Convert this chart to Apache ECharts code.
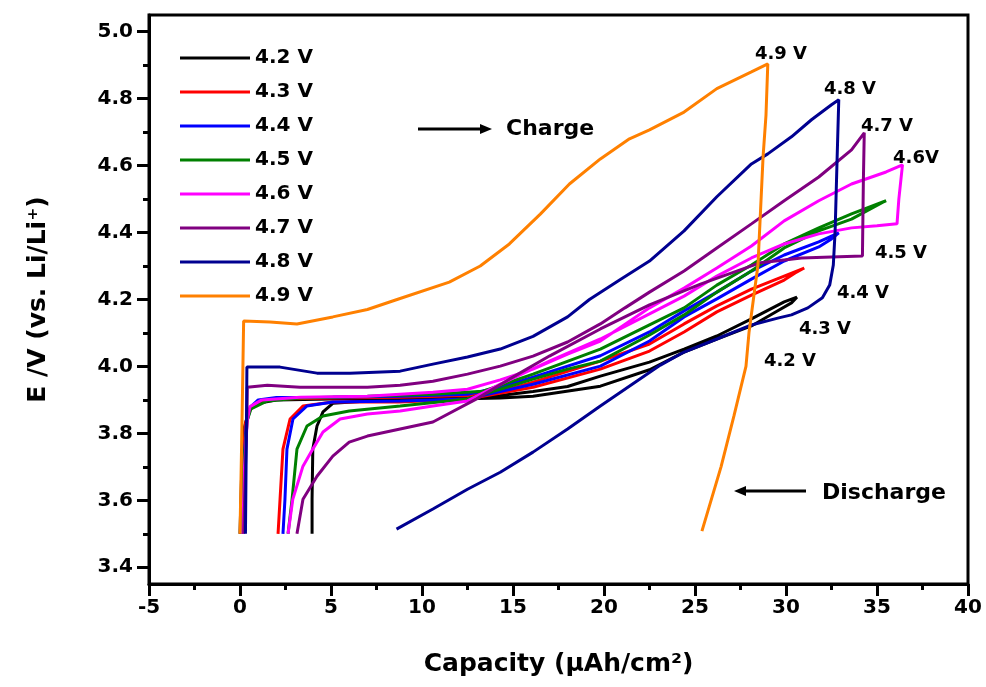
<!DOCTYPE html>
<html>
<head>
<meta charset="utf-8">
<script src="https://cdn.jsdelivr.net/npm/echarts@6/dist/echarts.min.js"></script>
<style>
html,body{margin:0;padding:0;background:#fff;}
#chart{width:986px;height:687px;}
</style>
</head>
<body>
<div id="chart"></div>
<script>
// ---- data ----
const seriesNames = ['4.2 V','4.3 V','4.4 V','4.5 V','4.6 V','4.7 V','4.8 V','4.9 V'];
const seriesColors = ['#000000','#ff0000','#0000ff','#008000','#ff00ff','#800080','#000090','#ff8000'];

const xTickLabels = [-5,0,5,10,15,20,25,30,35,40];
const yTickLabels = [3.4,3.6,3.8,4.0,4.2,4.4,4.6,4.8,5.0];
const yMinorTicks = [3.5,3.7,3.9,4.1,4.3,4.5,4.7,4.9];

const cap42 = [0.0,0.1,0.25,0.5,1.0,2.0,5.0,8.8,12.5,14.3,16.1,18.0,19.8,22.5,24.4,26.2,28.1,29.9,30.6,
               30.3,29.5,28.1,26.2,24.4,22.5,19.8,16.1,14.3,10.6,7.0,5.1,4.56,4.23,4.0,3.96,3.96];
const volt42 = [3.5,3.7,3.82,3.87,3.89,3.9,3.903,3.905,3.908,3.913,3.925,3.94,3.971,4.013,4.052,4.091,4.142,4.193,4.207,
                4.19,4.165,4.121,4.082,4.043,3.99,3.941,3.911,3.906,3.901,3.897,3.89,3.864,3.822,3.753,3.603,3.5];

const cap43 = [0.05,0.15,0.3,0.55,1.0,2.0,5.0,8.8,12.5,14.3,16.1,19.8,22.5,24.4,26.2,28.1,29.9,31.0,
               30.5,29.9,28.1,26.2,24.4,22.5,19.8,16.1,12.5,8.8,5.1,3.46,2.75,2.36,2.2,2.09];
const volt43 = [3.5,3.7,3.83,3.875,3.895,3.903,3.906,3.908,3.913,3.925,3.953,4.016,4.067,4.127,4.181,4.231,4.27,4.294,
                4.279,4.258,4.213,4.163,4.103,4.046,3.992,3.938,3.903,3.894,3.894,3.882,3.843,3.753,3.603,3.5];

const cap44 = [0.1,0.2,0.35,0.6,1.0,2.0,5.1,8.8,12.5,14.3,16.1,19.8,22.5,24.4,26.2,28.1,29.9,31.8,32.9,
               32.5,31.8,29.9,28.1,26.2,24.4,22.5,19.8,16.1,12.5,8.8,5.1,3.68,2.91,2.58,2.47,2.36];
const volt44 = [3.5,3.7,3.83,3.88,3.9,3.907,3.908,3.911,3.917,3.938,3.968,4.032,4.103,4.166,4.222,4.285,4.333,4.372,4.399,
                4.381,4.357,4.315,4.261,4.202,4.148,4.076,4.001,3.947,3.903,3.897,3.894,3.882,3.843,3.753,3.603,3.5];

const cap45 = [0.1,0.2,0.4,0.6,1.5,3.3,7.0,10.6,13.35,16.1,19.8,22.5,24.4,26.2,28.1,29.9,31.8,33.6,35.5,
               35.3,33.6,31.8,29.9,28.1,26.2,24.4,22.5,19.8,18.0,16.1,14.3,12.5,8.8,6.0,4.56,3.68,3.13,2.86,2.64];
const volt45 = [3.5,3.7,3.84,3.873,3.897,3.906,3.911,3.917,3.926,3.977,4.052,4.124,4.175,4.243,4.303,4.366,4.414,4.456,4.495,
                4.49,4.44,4.405,4.354,4.285,4.222,4.154,4.094,4.016,3.992,3.962,3.932,3.903,3.882,3.867,3.852,3.822,3.753,3.603,3.5];

const cap46 = [0.15,0.25,0.4,0.55,1.2,3.3,7.0,10.6,12.5,14.3,16.1,18.0,19.8,22.5,24.4,26.2,28.1,29.9,31.8,33.6,35.5,36.4,
               36.2,36.1,35.0,33.6,31.8,29.9,28.1,26.2,24.4,22.5,19.8,17.0,14.3,12.5,10.6,8.8,7.0,5.5,4.56,4.0,3.46,2.9,2.64];
const volt46 = [3.5,3.7,3.84,3.88,3.9,3.908,3.911,3.923,3.932,3.96,3.992,4.037,4.076,4.175,4.234,4.294,4.36,4.435,4.495,4.545,4.581,4.602,
                4.5,4.426,4.42,4.414,4.396,4.366,4.324,4.27,4.21,4.157,4.082,4.016,3.947,3.897,3.882,3.867,3.858,3.843,3.804,3.753,3.702,3.603,3.5];

const cap47 = [0.2,0.3,0.38,0.4,1.5,3.3,7.0,8.8,10.6,12.5,14.3,16.1,18.0,19.8,21.15,22.5,24.4,26.2,28.1,29.9,31.8,33.6,34.3,
               34.25,34.2,32.5,30.85,28.6,25.3,22.5,19.8,17.0,14.8,13.0,10.6,8.8,7.0,6.0,5.1,4.23,3.46,3.13];
const volt47 = [3.5,3.7,3.85,3.938,3.944,3.938,3.938,3.944,3.956,3.977,4.001,4.031,4.073,4.127,4.175,4.222,4.285,4.354,4.426,4.495,4.566,4.647,4.698,
                4.55,4.33,4.327,4.324,4.31,4.246,4.184,4.112,4.031,3.962,3.903,3.834,3.813,3.792,3.774,3.732,3.672,3.603,3.5];

const cap48 = [0.3,0.35,0.38,2.2,4.23,6.04,8.8,10.6,12.5,14.3,16.1,18.0,19.2,20.9,22.5,24.4,26.2,28.1,29.0,30.3,31.4,32.5,32.9,
               32.8,32.7,32.6,32.4,32.0,31.2,30.3,29.6,28.1,26.2,24.4,23.1,19.8,18.0,16.1,14.3,12.5,10.6,8.6];
const volt48 = [3.5,3.8,3.998,3.998,3.98,3.98,3.986,4.007,4.028,4.052,4.09,4.148,4.2,4.26,4.315,4.405,4.507,4.605,4.635,4.686,4.737,4.782,4.797,
                4.605,4.405,4.303,4.243,4.205,4.175,4.154,4.145,4.124,4.082,4.043,4.004,3.882,3.813,3.744,3.684,3.633,3.574,3.514];

const cap49 = [0.0,0.1,0.16,0.2,1.65,3.13,5.1,7.0,8.63,11.5,13.2,14.8,16.5,18.1,19.8,21.4,22.5,24.4,26.2,28.1,29.0,
               28.9,28.74,28.46,27.97,27.8,27.14,26.43,25.38];
const volt49 = [3.5,3.8,4.0,4.136,4.133,4.127,4.148,4.17,4.2,4.252,4.3,4.366,4.455,4.545,4.62,4.68,4.707,4.76,4.83,4.88,4.904,
                4.75,4.626,4.303,4.103,4.0,3.852,3.70,3.508];

const capacities = [cap42,cap43,cap44,cap45,cap46,cap47,cap48,cap49];
const voltages = [volt42,volt43,volt44,volt45,volt46,volt47,volt48,volt49];

// annotation texts
const peakLabels = ['4.9 V','4.8 V','4.7 V','4.6V','4.5 V','4.4 V','4.3 V','4.2 V'];

// ---- chart ----
const FONT = 'DejaVu Sans';
const chart = echarts.init(document.getElementById('chart'), null, {renderer:'canvas'});

const series = seriesNames.map((name,i)=>({
  name: name,
  type: 'line',
  xAxisIndex: 0,
  yAxisIndex: 0,
  symbol: 'none',
  showSymbol: false,
  smooth: false,
  clip: true,
  color: seriesColors[i],
  lineStyle: {color: seriesColors[i], width: 3},
  data: capacities[i].map((c,k)=>[c, voltages[i][k]])
}));

const peakPos = [[781,54],[850,89],[887,126],[916,158],[901,253],[863,293],[825,329],[790,361]];
const graphics = peakLabels.map((t,i)=>({
  type:'text', x: peakPos[i][0], y: peakPos[i][1],
  style:{text:t, font:'bold 18px "'+FONT+'"', fill:'#000', textAlign:'center', textVerticalAlign:'middle'}
}));
graphics.push(
  {type:'line', shape:{x1:418,y1:129,x2:482,y2:129}, style:{stroke:'#000', lineWidth:3}},
  {type:'polygon', shape:{points:[[480,124],[492,129],[480,134]]}, style:{fill:'#000'}},
  {type:'text', x:506, y:129, style:{text:'Charge', font:'bold 22px "'+FONT+'"', fill:'#000', textAlign:'left', textVerticalAlign:'middle'}},
  {type:'line', shape:{x1:744,y1:491,x2:806,y2:491}, style:{stroke:'#000', lineWidth:3}},
  {type:'polygon', shape:{points:[[746,486],[734,491],[746,496]]}, style:{fill:'#000'}},
  {type:'text', x:822, y:493, style:{text:'Discharge', font:'bold 22px "'+FONT+'"', fill:'#000', textAlign:'left', textVerticalAlign:'middle'}}
);

const option = {
  animation: false,
  backgroundColor: '#fff',
  grid: {left:149, right:18, top:15, bottom:103, show:true, borderColor:'#000', borderWidth:3, containLabel:false, outerBoundsMode:'none'},
  legend: {
    data: seriesNames,
    orient: 'vertical',
    left: 175, top: 43,
    icon: 'rect',
    itemWidth: 70, itemHeight: 3, itemGap: 14,
    textStyle: {fontFamily: FONT, fontWeight:'bold', fontSize: 20, color:'#000'}
  },
  xAxis: [{
    type:'value', min:-5, max:40, interval:5,
    name:'Capacity (μAh/cm²)', nameLocation:'middle', nameGap:68,
    nameTextStyle:{fontFamily:FONT, fontWeight:'bold', fontSize:25, color:'#000'},
    axisLine:{show:true, onZero:false, lineStyle:{color:'#000', width:3}},
    axisTick:{show:true, inside:false, length:12, lineStyle:{color:'#000', width:3}},
    minorTick:{show:true, splitNumber:2, length:6, lineStyle:{color:'#000', width:3}},
    axisLabel:{fontFamily:FONT, fontWeight:'bold', fontSize:20, color:'#000', margin:14, showMinLabel:true, showMaxLabel:true},
    splitLine:{show:false}, minorSplitLine:{show:false}
  }],
  yAxis: [{
    type:'value', min:3.35, max:5.05, position:'left', offset:0,
    name:'E /V (vs. Li/Li⁺)', nameLocation:'middle', nameGap:98, nameRotate:90,
    nameTextStyle:{fontFamily:FONT, fontWeight:'bold', fontSize:25, color:'#000'},
    axisLine:{show:true, onZero:false, lineStyle:{color:'#000', width:3}},
    axisTick:{show:true, inside:false, length:12, customValues: yTickLabels, lineStyle:{color:'#000', width:3}},
    axisLabel:{fontFamily:FONT, fontWeight:'bold', fontSize:20, color:'#000', margin:16,
               customValues: yTickLabels, formatter: v => Number(v).toFixed(1)},
    splitLine:{show:false}
  },{
    type:'value', min:3.35, max:5.05, position:'left', offset:0,
    axisLine:{show:false, onZero:false},
    axisTick:{show:true, inside:false, length:6, customValues: yMinorTicks, lineStyle:{color:'#000', width:3}},
    axisLabel:{show:false},
    splitLine:{show:false}
  }],
  series: series,
  graphic: graphics
};
chart.setOption(option);
</script>
</body>
</html>
